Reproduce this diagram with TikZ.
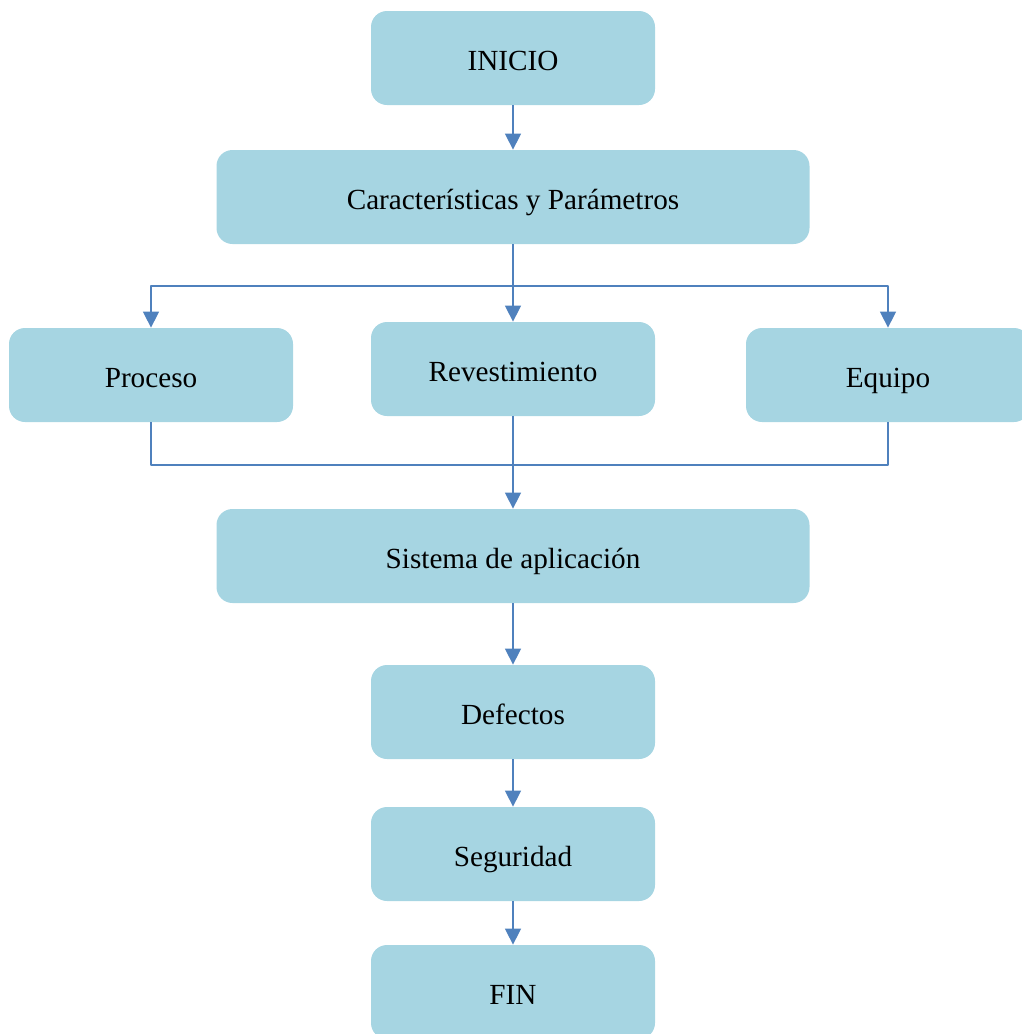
\documentclass[tikz,border=0pt]{standalone}
\usepackage{fontspec}
\setmainfont{Liberation Serif}
\usetikzlibrary{arrows.meta}
\definecolor{cajaazul}{RGB}{166,213,226}
\definecolor{lineaazul}{RGB}{79,129,189}
\tikzset{
  caja/.style={fill=cajaazul,rounded corners=8pt,minimum width=142pt,minimum height=47pt,inner sep=0pt,text height=12.5pt,text depth=0pt},
  cajaancha/.style={caja,minimum width=296.5pt},
  flecha/.style={draw=lineaazul,line width=.75pt,-{Triangle[width=8pt,length=8pt]}},
  linea/.style={draw=lineaazul,line width=.75pt}
}
\begin{document}
\begin{tikzpicture}[x=.5pt,y=-.5pt,font=\fontsize{14.6}{17}\selectfont,line join=round]
\useasboundingbox (0,0) rectangle (1022,1034);
\path
(513,58) node[caja](ini){INICIO}
(513,197) node[cajaancha](car){Características y Parámetros}
(151,375) node[caja](pro){Proceso}
(513,369) node[caja](rev){Revestimiento}
(888,375) node[caja](equ){Equipo}
(513,556) node[cajaancha](sis){Sistema de aplicación}
(513,712) node[caja](def){Defectos}
(513,854) node[caja](seg){Seguridad}
(513,992) node[caja](fin){FIN}
(513,286)coordinate(br)
(513,465)coordinate(mg);
\draw[flecha] (ini)--(car);
\draw[flecha] (car.south)--(rev.north);
\draw[flecha] (br)-|(pro.north);
\draw[flecha] (br)-|(equ.north);
\draw[linea] (pro.south)|-(mg);
\draw[linea] (equ.south)|-(mg);
\draw[flecha] (rev.south)--(sis.north);
\foreach \a/\b in {sis/def,def/seg,seg/fin}
\draw[flecha] (\a)--(\b);
\end{tikzpicture}
\end{document}
